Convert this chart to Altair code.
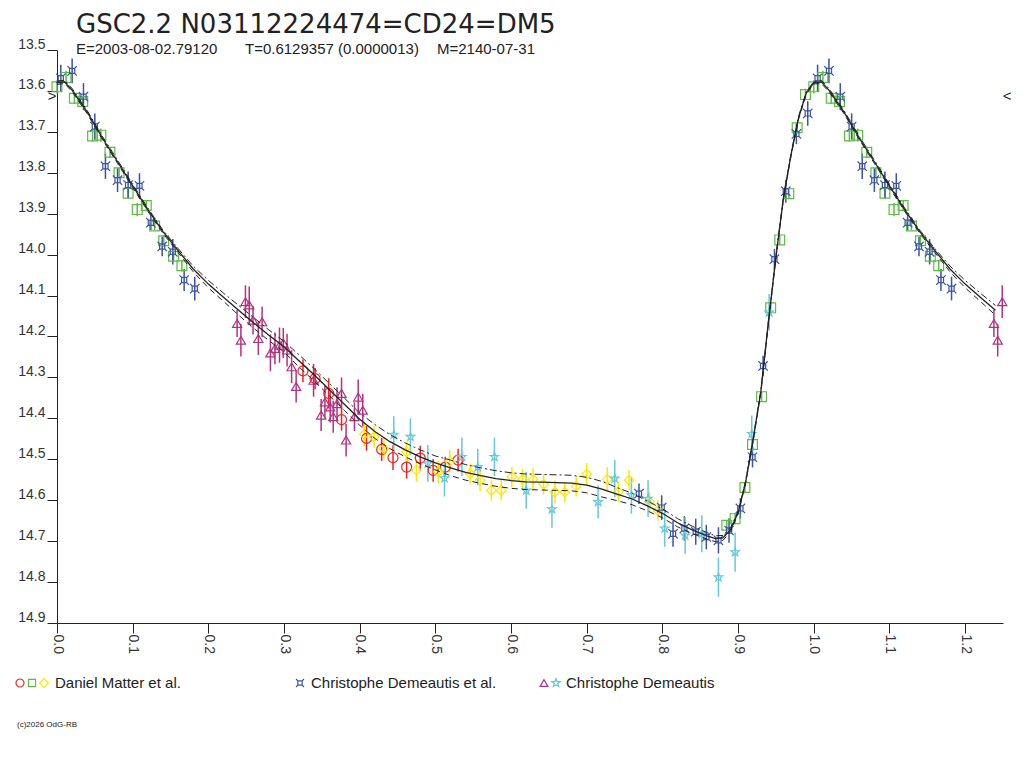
import altair as alt
import pandas as pd

TITLE = "GSC2.2 N03112224474=CD24=DM5"
SUB_E = "E=2003-08-02.79120"
SUB_T = "T=0.6129357 (0.0000013)"
SUB_M = "M=2140-07-31"
LEG1 = "Daniel Matter et al."
LEG2 = "Christophe Demeautis et al."
LEG3 = "Christophe Demeautis"
COPY = "(c)2026 OdG-RB"

# ---- fitted light curve (phase 0..1) ----
curve_phase = [0.00, 0.01, 0.02, 0.04, 0.06, 0.08, 0.10, 0.12, 0.14, 0.16, 0.18, 0.20, 0.22, 0.24,
               0.26, 0.28, 0.30, 0.32, 0.34, 0.36, 0.38, 0.40, 0.42, 0.44, 0.46, 0.48, 0.50, 0.52,
               0.54, 0.56, 0.58, 0.60, 0.62, 0.64, 0.66, 0.68, 0.70, 0.72, 0.74, 0.76, 0.78, 0.80,
               0.82, 0.84, 0.86, 0.87, 0.88, 0.89, 0.90, 0.91, 0.92, 0.93, 0.94, 0.95, 0.96, 0.97,
               0.98, 0.99, 1.00]
curve_mag = [13.580, 13.578, 13.598, 13.652, 13.715, 13.773, 13.832, 13.890, 13.944, 13.990, 14.035,
             14.072, 14.104, 14.136, 14.167, 14.197, 14.225, 14.260, 14.294, 14.330, 14.366, 14.402,
             14.432, 14.457, 14.477, 14.494, 14.509, 14.521, 14.532, 14.540, 14.547, 14.552, 14.555,
             14.556, 14.557, 14.558, 14.563, 14.573, 14.585, 14.597, 14.614, 14.632, 14.655, 14.673,
             14.688, 14.694, 14.692, 14.672, 14.630, 14.555, 14.450, 14.335, 14.165, 14.005, 13.860,
             13.755, 13.665, 13.605, 13.580]
curve_band = [0.004, 0.004, 0.004, 0.004, 0.004, 0.004, 0.004, 0.004, 0.004, 0.005, 0.007, 0.009,
              0.010, 0.012, 0.013, 0.013, 0.013, 0.015, 0.015, 0.015, 0.015, 0.015, 0.017, 0.017,
              0.017, 0.017, 0.017, 0.019, 0.019, 0.019, 0.019, 0.019, 0.019, 0.019, 0.019, 0.019,
              0.019, 0.019, 0.016, 0.014, 0.012, 0.011, 0.010, 0.009, 0.008, 0.007, 0.006, 0.005,
              0.003, 0.003, 0.003, 0.003, 0.003, 0.003, 0.003, 0.003, 0.003, 0.003, 0.003]

# ---- Daniel Matter et al. : red circles ----
mc_phase = [0.325, 0.341, 0.359, 0.376, 0.409, 0.429, 0.444, 0.462, 0.480, 0.497, 0.513, 0.530]
mc_mag = [14.284, 14.303, 14.339, 14.403, 14.449, 14.476, 14.496, 14.519, 14.497, 14.527, 14.519, 14.502]
mc_err = [0.028, 0.026, 0.037, 0.027, 0.030, 0.028, 0.030, 0.028, 0.030, 0.028, 0.025, 0.028]

# ---- Daniel Matter et al. : green squares ----
ms_phase = [0.000, 0.012, 0.023, 0.034, 0.047, 0.058, 0.070, 0.082, 0.094, 0.106, 0.118, 0.129,
            0.141, 0.154, 0.165, 0.885, 0.896, 0.909, 0.919, 0.931, 0.943, 0.955, 0.967, 0.978, 0.989]
ms_mag = [13.590, 13.567, 13.618, 13.626, 13.710, 13.708, 13.750, 13.800, 13.850, 13.890, 13.880,
          13.930, 13.966, 14.004, 14.027, 14.661, 14.645, 14.569, 14.464, 14.347, 14.130, 13.964,
          13.851, 13.690, 13.609]
ms_err = [0.016, 0.016, 0.014, 0.012, 0.014, 0.016, 0.013, 0.012, 0.012, 0.016, 0.014, 0.010,
          0.014, 0.014, 0.014, 0.012, 0.013, 0.012, 0.012, 0.012, 0.014, 0.012, 0.012, 0.014, 0.014]

# ---- Daniel Matter et al. : yellow diamonds ----
md_phase = [0.406, 0.419, 0.432, 0.462, 0.475, 0.504, 0.519, 0.546, 0.559, 0.574, 0.587, 0.601,
            0.615, 0.629, 0.643, 0.658, 0.671, 0.686, 0.700, 0.727, 0.742, 0.756, 0.783, 0.794]
md_mag = [14.439, 14.445, 14.474, 14.482, 14.527, 14.531, 14.505, 14.535, 14.551, 14.576, 14.576,
          14.543, 14.549, 14.549, 14.561, 14.580, 14.580, 14.566, 14.536, 14.549, 14.580, 14.551,
          14.604, 14.625]
md_err = [0.028, 0.027, 0.027, 0.025, 0.028, 0.028, 0.027, 0.025, 0.027, 0.025, 0.025, 0.025,
          0.025, 0.027, 0.025, 0.028, 0.025, 0.025, 0.027, 0.030, 0.025, 0.025, 0.025, 0.025]

# ---- Christophe Demeautis et al. : blue ----
de_phase = [0.005, 0.020, 0.035, 0.050, 0.064, 0.080, 0.094, 0.109, 0.124, 0.139, 0.153, 0.168,
            0.182, 0.769, 0.799, 0.814, 0.829, 0.844, 0.858, 0.874, 0.888, 0.903, 0.919, 0.933,
            0.948, 0.963, 0.977, 0.992]
de_mag = [13.569, 13.551, 13.614, 13.687, 13.784, 13.818, 13.830, 13.832, 13.922, 13.980, 13.993,
          14.062, 14.083, 14.584, 14.618, 14.682, 14.669, 14.677, 14.690, 14.698, 14.674, 14.620,
          14.495, 14.272, 14.011, 13.845, 13.705, 13.655]
de_err = [0.033, 0.030, 0.033, 0.032, 0.031, 0.029, 0.033, 0.031, 0.018, 0.024, 0.031, 0.027,
          0.029, 0.025, 0.030, 0.032, 0.030, 0.032, 0.030, 0.032, 0.030, 0.025, 0.025, 0.025,
          0.025, 0.028, 0.025, 0.030]

# ---- Christophe Demeautis : magenta triangles ----
dt_phase = [0.238, 0.243, 0.249, 0.254, 0.259, 0.266, 0.271, 0.282, 0.288, 0.294, 0.299, 0.304,
            0.310, 0.316, 0.339, 0.349, 0.354, 0.361, 0.365, 0.370, 0.376, 0.382, 0.393, 0.398, 0.404]
dt_mag = [14.168, 14.209, 14.115, 14.123, 14.160, 14.205, 14.164, 14.240, 14.229, 14.221, 14.216,
          14.233, 14.274, 14.322, 14.307, 14.392, 14.360, 14.372, 14.396, 14.364, 14.339, 14.453,
          14.396, 14.348, 14.380]
dt_err = [0.033, 0.040, 0.040, 0.045, 0.035, 0.040, 0.037, 0.045, 0.039, 0.043, 0.037, 0.040,
          0.040, 0.039, 0.040, 0.039, 0.040, 0.038, 0.039, 0.040, 0.039, 0.040, 0.035, 0.043, 0.040]

# ---- Christophe Demeautis : cyan stars ----
ds_phase = [0.445, 0.467, 0.490, 0.512, 0.535, 0.556, 0.578, 0.620, 0.654, 0.715, 0.737, 0.759,
            0.781, 0.803, 0.830, 0.852, 0.874, 0.896, 0.918, 0.941]
ds_mag = [14.440, 14.445, 14.510, 14.546, 14.494, 14.519, 14.494, 14.576, 14.622, 14.604, 14.547,
          14.588, 14.596, 14.669, 14.686, 14.682, 14.788, 14.727, 14.438, 14.141]
ds_err = [0.045, 0.045, 0.045, 0.045, 0.047, 0.045, 0.047, 0.045, 0.045, 0.040, 0.045, 0.045,
          0.045, 0.045, 0.045, 0.045, 0.048, 0.048, 0.045, 0.045]

SERIES = ["mc", "ms", "md", "de", "dt", "ds"]
COLORS = ["#EE2222", "#5DBB46", "#FFE600", "#3B52A6", "#B5317E", "#66C8D8"]
BLUE_SHAPE = ("M-0.55,-0.55L0.55,-0.55L0.55,0.55L-0.55,0.55Z"
              "M-1,-1L-0.55,-0.55M1,-1L0.55,-0.55M-1,1L-0.55,0.55M1,1L0.55,0.55")
STAR_SHAPE = ("M0,-1L0.235,-0.324L0.951,-0.309L0.38,0.124L0.588,0.809L0,0.4"
              "L-0.588,0.809L-0.38,0.124L-0.951,-0.309L-0.235,-0.324Z")
SHAPES = ["circle", "square", "diamond", BLUE_SHAPE, "triangle-up", STAR_SHAPE]
SIZES = [100, 80, 130, 80, 80, 110]

rows = []
for name, ph, mg, er in [("mc", mc_phase, mc_mag, mc_err), ("ms", ms_phase, ms_mag, ms_err),
                         ("md", md_phase, md_mag, md_err), ("de", de_phase, de_mag, de_err),
                         ("dt", dt_phase, dt_mag, dt_err), ("ds", ds_phase, ds_mag, ds_err)]:
    for p, m, e in zip(ph, mg, er):
        for shift in (0.0, 1.0):
            if p + shift <= 1.25:
                rows.append(dict(series=name, phase=p + shift, mag=m, lo=m - e, hi=m + e))
obs = pd.DataFrame(rows)

crow = []
for p, m, b in zip(curve_phase, curve_mag, curve_band):
    for shift in (0.0, 1.0):
        q = p + shift
        if q <= 1.25 and not (shift == 1.0 and p == 0.0):
            crow.append(dict(phase=q, mag=m, up=m - b, dn=m + b))
curve = pd.DataFrame(crow)

FONT = "Liberation Sans"
INK = "#222222"

xenc = alt.X("phase:Q", title=None,
             scale=alt.Scale(domain=[0, 1.25], nice=False, zero=False),
             axis=alt.Axis(orient="bottom", values=[round(i * 0.05, 2) for i in range(26)],
                           labelExpr="abs(datum.value*10 - round(datum.value*10)) < 0.001 ? format(datum.value, '.1f') : ''",
                           labelAngle=90, labelAlign="left", labelBaseline="middle",
                           tickSize=10, labelPadding=1, grid=False, labelOverlap=False,
                           labelFlush=False, labelBound=False))
yscale = alt.Scale(domain=[13.5, 14.9], reverse=True, nice=False, zero=False)
yaxis = alt.Axis(orient="left", values=[round(13.5 + i * 0.1, 1) for i in range(15)], format=".1f",
                 tickSize=10, labelPadding=2, grid=False, labelBaseline="alphabetic",
                 labelOffset=-2, labelOverlap=False, labelFlush=False, labelBound=False)

color = alt.Color("series:N", scale=alt.Scale(domain=SERIES, range=COLORS), legend=None)
shape = alt.Shape("series:N", scale=alt.Scale(domain=SERIES, range=SHAPES), legend=None)
size = alt.Size("series:N", scale=alt.Scale(domain=SERIES, range=SIZES), legend=None)

bars = alt.Chart(obs).mark_rule(strokeWidth=1.5).encode(
    x=xenc, y=alt.Y("lo:Q", scale=yscale, axis=yaxis, title=None), y2="hi:Q", color=color)
pts = alt.Chart(obs).mark_point(filled=False, strokeWidth=1.2, opacity=1).encode(
    x="phase:Q", y=alt.Y("mag:Q", title=None), color=color, shape=shape, size=size)

mid = alt.Chart(curve).mark_line(color=INK, strokeWidth=1.3).encode(
    x="phase:Q", y=alt.Y("mag:Q", title=None))
up = alt.Chart(curve).mark_line(color=INK, strokeWidth=1, strokeDash=[7, 3, 2, 3]).encode(
    x="phase:Q", y=alt.Y("up:Q", title=None))
dn = alt.Chart(curve).mark_line(color=INK, strokeWidth=1, strokeDash=[6, 4]).encode(
    x="phase:Q", y=alt.Y("dn:Q", title=None))

one = pd.DataFrame({"k": [0]})


def label(txt, x, y, fs, align="left", color=INK, baseline="alphabetic", font=FONT):
    return alt.Chart(one).mark_text(text=txt, fontSize=fs, font=font, align=align,
                                    baseline=baseline, color=color).encode(
        x=alt.value(x), y=alt.value(y))


def sym(shp, col, x, y, sz=70):
    return alt.Chart(one).mark_point(shape=shp, filled=False, strokeWidth=1.2, size=sz,
                                     color=col, opacity=1).encode(
        x=alt.value(x), y=alt.value(y))


marks_df = pd.DataFrame({"mag": [13.612]})
gt = alt.Chart(marks_df).mark_text(text=">", fontSize=15, font=FONT, color=INK,
                                   baseline="middle", align="center").encode(
    x=alt.value(-5), y=alt.Y("mag:Q", title=None))
lt = alt.Chart(marks_df).mark_text(text="<", fontSize=15, font=FONT, color=INK,
                                   baseline="middle", align="center").encode(
    x=alt.value(950), y=alt.Y("mag:Q", title=None))

texts = [
    label(TITLE, 19, -17.5, 26, font="DejaVu Sans"),
    label(SUB_E, 19, 4, 15),
    label(SUB_T, 188, 4, 15),
    label(SUB_M, 380, 4, 15),
    label(LEG1, -2, 638, 15),
    label(LEG2, 254, 638, 15),
    label(LEG3, 509, 638, 15),
    label(COPY, -40, 677, 8),
    sym("circle", COLORS[0], -37, 633, 64),
    sym("square", COLORS[1], -25, 633, 50),
    sym("diamond", COLORS[2], -13, 633, 80),
    sym(BLUE_SHAPE, COLORS[3], 243, 633, 64),
    sym("triangle-up", COLORS[4], 487, 633, 60),
    sym(STAR_SHAPE, COLORS[5], 499, 633, 80),
]

chart = alt.layer(bars, pts, mid, up, dn, gt, lt, *texts).properties(
    width=946, height=573,
    autosize=alt.AutoSizeParams(type="none"),
    padding={"left": 49, "top": 42, "right": 13, "bottom": 130},
    background="white",
).configure_view(stroke=None).configure_axis(
    domainColor=INK, tickColor=INK, labelColor="#333333", labelFont=FONT,
    labelFontSize=14, domainWidth=1, tickWidth=1,
)

chart.save("out.html", embed_options={"renderer": "svg", "actions": False})
